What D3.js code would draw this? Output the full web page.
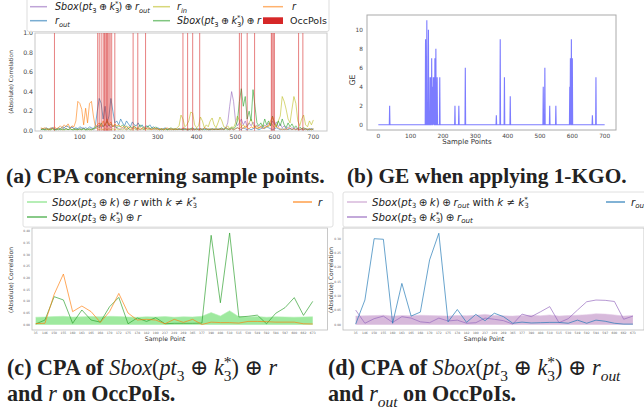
<!DOCTYPE html>
<html><head><meta charset="utf-8">
<script src="https://cdn.jsdelivr.net/npm/d3@7"></script>
<style>body{margin:0;background:#fff}svg{display:block}</style>
</head><body>
<svg id="fig" width="644" height="411"></svg>
<script>
// ---------- DATA ----------
// (a) correlation traces, one value every 5 sample points (0..700)
const samplePointsA = d3.range(0, 701, 5);
const sboxROut = [0.01,0.02,0.01,0.02,0.01,0.02,0.03,0.01,0.02,0.01,0.02,0.01,0.03,0.02,0.01,0.02,0.04,0.02,0.01,0.02,0.01,0.02,0.03,0.01,0.02,0.01,0.02,0.01,0.02,
 0.04,0.06,0.03,0.05,0.07,0.04,0.06,0.03,0.05,0.04,0.03,
 0.02,0.01,0.03,0.02,0.01,0.02,0.01,0.02,0.03,0.01,0.02,0.01,0.02,0.01,0.02,0.03,0.01,0.02,0.01,0.02,
 0.01,0.02,0.01,0.02,0.01,0.02,0.01,0.02,0.01,0.02,0.01,0.02,0.01,0.02,0.03,0.01,0.02,0.01,0.02,0.01,
 0.02,0.01,0.02,0.01,0.03,0.02,0.01,0.02,0.01,0.02,0.01,0.02,0.01,0.02,0.01,
 0.03,0.08,0.25,0.40,0.30,0.10,0.05,0.08,
 0.12,0.06,0.10,0.04,0.08,0.05,0.09,0.04,0.06,0.03,
 0.05,0.03,0.06,0.04,0.08,0.05,0.10,0.06,0.09,0.04,0.07,0.03,0.05,0.02,0.04,0.02,0.03,0.02,0.03,0.01,0.02,0.01,0.02,0.01,0.02,0.01,0.02,0.01];
const rOut = [0.02,0.01,0.02,0.03,0.01,0.02,0.03,0.02,0.01,0.03,0.02,0.04,0.03,0.05,0.04,0.03,0.04,0.02,0.03,0.02,0.04,0.03,0.02,0.03,0.02,0.04,0.03,0.02,0.05,
 0.20,0.33,0.28,0.12,0.25,0.08,0.15,0.33,0.20,0.08,
 0.10,0.06,0.12,0.08,0.05,0.10,0.07,0.04,0.09,0.06,0.05,0.08,0.04,0.06,0.03,0.05,0.04,0.06,0.03,0.04,0.02,0.03,
 0.02,0.01,0.02,0.03,0.01,0.02,0.01,0.02,0.01,0.02,0.01,0.02,0.01,0.02,0.01,0.01,0.02,0.01,0.02,0.01,
 0.02,0.01,0.02,0.01,0.02,0.01,0.01,0.02,0.01,0.02,0.01,0.02,0.01,0.02,0.03,0.02,0.01,0.02,0.01,0.02,
 0.03,0.02,0.01,0.03,0.02,0.01,0.02,0.01,0.02,0.03,0.02,0.01,0.02,0.03,0.02,0.04,0.03,0.02,0.01,0.02,
 0.03,0.02,0.01,0.02,0.01,0.02,0.01,0.02,0.01,0.02,0.01,0.02,0.01,0.02,0.01,0.02,0.01,0.01,0.02,0.01];
const rIn = [0.01,0.02,0.01,0.02,0.01,0.01,0.02,0.01,0.02,0.01,0.02,0.01,0.01,0.02,0.01,0.02,0.01,0.02,0.01,0.01,
 0.02,0.01,0.02,0.01,0.02,0.01,0.01,0.02,0.03,0.02,0.01,0.02,0.01,0.02,0.01,0.02,0.01,0.02,0.01,0.02,
 0.01,0.02,0.01,0.02,0.01,0.02,0.01,0.01,0.02,0.01,0.02,0.01,0.02,0.01,0.02,0.01,0.02,0.01,0.02,0.01,
 0.02,0.01,0.02,0.01,0.02,0.01,0.02,0.01,0.02,0.01,0.03,
 0.05,0.16,0.12,0.04,0.06,0.10,0.19,0.18,0.06,0.03,
 0.05,0.14,0.10,0.03,0.06,0.04,0.10,0.13,0.06,0.03,0.08,0.14,0.10,0.04,0.03,0.05,0.02,0.04,0.03,0.08,
 0.15,0.10,0.04,0.06,0.03,0.05,0.08,0.12,0.06,0.03,0.05,0.02,0.04,0.06,0.03,0.05,0.04,0.08,0.06,0.03,0.05,0.10,
 0.15,0.35,0.30,0.22,0.12,0.08,0.22,0.35,0.28,0.10,0.05,0.12,0.16,0.06,0.04,0.10,0.06,0.11];
const sboxR = [0.01,0.02,0.01,0.01,0.02,0.01,0.02,0.01,0.01,0.02,0.01,0.02,0.01,0.02,0.01,0.02,0.01,0.01,0.02,0.01,0.02,0.01,0.02,0.01,0.01,0.02,0.01,0.02,0.03,
 0.05,0.03,0.08,0.04,0.06,0.10,0.05,0.07,0.04,0.06,0.03,0.05,0.04,0.06,0.03,0.05,0.02,0.04,0.03,0.05,0.02,0.03,0.06,0.04,0.02,0.03,0.05,0.02,0.03,0.02,0.04,0.02,
 0.01,0.02,0.01,0.02,0.01,0.02,0.03,0.01,0.02,0.01,0.02,0.01,0.02,0.01,0.02,0.01,0.02,0.03,0.01,0.02,
 0.01,0.02,0.01,0.02,0.01,0.02,0.01,0.02,0.01,0.02,0.01,0.02,0.03,0.01,0.02,0.01,0.02,0.03,0.02,0.04,
 0.10,0.30,0.43,0.25,0.35,0.12,0.20,0.10,0.42,0.25,0.08,0.05,
 0.08,0.04,0.12,0.06,0.10,0.05,0.15,0.08,0.04,0.10,0.05,0.12,0.06,0.03,0.08,0.04,0.07,0.03,0.05,0.02,0.04,0.02,0.03,0.02,0.01,0.02,0.01,0.02];
const rMask = [0.03,0.02,0.03,0.02,0.01,0.03,0.02,0.04,0.02,0.03,0.05,0.03,
 0.06,0.04,0.07,0.03,0.05,0.04,
 0.10,0.30,0.28,0.22,0.06,0.23,0.08,0.28,0.30,0.15,0.04,
 0.06,0.08,0.04,0.10,0.05,0.12,0.06,0.09,0.04,0.07,0.05,0.06,
 0.04,0.03,0.05,0.02,0.04,0.03,0.02,0.04,0.03,0.02,0.03,0.02,0.04,0.02,0.03,0.02,0.01,0.03,0.02,0.02,
 0.01,0.02,0.01,0.02,0.03,0.01,0.02,0.01,0.02,0.01,0.02,0.01,0.03,0.02,0.01,0.02,0.01,0.02,0.01,0.02,
 0.01,0.02,0.01,0.03,0.02,0.01,0.02,0.01,0.02,0.01,0.02,0.01,0.02,0.01,0.03,0.02,0.01,0.02,0.01,0.02,
 0.03,0.02,0.04,0.02,0.05,0.03,0.02,0.04,0.03,0.05,0.02,0.03,0.04,0.02,0.03,0.04,
 0.05,0.10,0.14,0.08,0.04,0.03,
 0.02,0.01,0.02,0.01,0.02,0.03,0.01,0.02,0.01,0.02,0.01,0.02,0.01,0.02,0.01,0.02,0.01,0.02];
// OccPoIs (sample points) and guessing entropy
const occPoIs = [35,146,150,155,160,163,165,168,170,172,175,178,182,190,237,249,269,365,377,390,408,510,515,530,549,592,594,597,600,662,673];
const geValues = [2,9,11,10,5,5,7,4,5,5,7,8,5,5,2,2,6,1,9,5,3,4,6,2,2,4,7,9,7,1,5];
const aTicksX = [0,100,200,300,400,500,600,700];
const aTicksY = [0,0.2,0.4,0.6,0.8,1.0];
const bTicksY = [0,2,4,6,8,10];
// (c) CPA on OccPoIs
const cWrongKeyUpper = [0.032,0.033,0.035,0.036,0.033,0.034,0.035,0.034,0.036,0.035,0.033,0.032,0.034,0.033,0.035,0.032,0.034,0.033,0.036,0.052,0.037,0.060,0.034,0.033,0.035,0.032,0.034,0.033,0.032,0.033,0.034];
const cSboxR = [0.003,0.02,0.12,0.106,0.006,0.063,0.02,0.011,0.077,0.117,0.004,0.029,0.014,0.03,0.004,0.006,0.006,0.006,0.007,0.383,0.094,0.393,0.033,0.036,0.041,0.004,0.049,0.073,0.116,0.04,0.10];
const cR = [0.005,0.006,0.13,0.217,0.056,0.08,0.056,0.01,0.056,0.134,0.05,0.02,0.023,0.02,0.004,0.023,0.01,0.023,0.001,0.011,0.009,0.009,0.007,0.014,0.014,0.013,0.011,0.011,0.011,0.004,0.003];
const cTicksY = [0,0.05,0.10,0.15,0.20,0.25,0.30,0.35,0.40];
// (d)
const dWrongKeyUpper = [0.030,0.031,0.032,0.033,0.030,0.032,0.031,0.033,0.032,0.031,0.030,0.032,0.031,0.033,0.036,0.032,0.031,0.030,0.032,0.033,0.031,0.034,0.030,0.032,0.033,0.035,0.038,0.037,0.034,0.030,0.032];
const dSboxROut = [0.051,0.005,0.021,0.03,0.008,0.028,0.023,0.01,0.007,0.023,0.013,0.016,0.005,0.007,0.023,0.019,0.014,0.002,0.037,0.028,0.045,0.063,0.007,0.021,0.051,0.08,0.086,0.085,0.081,0.019,0.03];
const dROut = [0.002,0.086,0.30,0.298,0.005,0.144,0.03,0.044,0.226,0.319,0.01,0.053,0.008,0.036,0.014,0.04,0.028,0.005,0.009,0.006,0.007,0.008,0.008,0.005,0.016,0.005,0.016,0.012,0.005,0.002,0.002];
const dTicksY = [0,0.05,0.10,0.15,0.20,0.25,0.30];

// ---------- HELPERS ----------
const SANS = "DejaVu Sans, sans-serif";
const SERIF = "Liberation Serif, DejaVu Serif, serif";
const svg = d3.select("#fig");
const C = {purple:"#9467bd", blue:"#1f77b4", olive:"#bcbd22", green:"#2ca02c", orange:"#ff7f0e", red:"#d62728"};

function rich(parent, x, y, parts, fs, family, anchor){
  const t = parent.append("text").attr("x", x).attr("y", y)
    .attr("font-family", family).attr("font-size", fs).attr("fill", "#222");
  if (anchor) t.attr("text-anchor", anchor);
  let off = 0, prev = null;
  parts.forEach(p => {
    const [txt, st, pos] = p;
    const ts = t.append("tspan").text(txt);
    let target = 0, size = fs;
    if (pos === "sub") { target = 0.28*fs; size = 0.7*fs; }
    if (pos === "sup") { target = -0.38*fs; size = 0.7*fs; }
    ts.attr("font-size", size)
      .attr("font-style", st === "i" ? "italic" : "normal")
      .attr("font-weight", st === "b" ? "bold" : "normal");
    if (target !== off) ts.attr("dy", target - off);
    if (pos === "sup" && prev) ts.attr("dx", -prev.node().getComputedTextLength());
    off = target; prev = ts;
  });
  return t;
}
function fitRich(parent, x, y, parts, fs, family, width){
  let t = rich(parent, x, y, parts, fs, family);
  if (width) {
    const w = t.node().getComputedTextLength();
    t.remove();
    t = rich(parent, x, y, parts, fs*width/w, family);
  }
  return t;
}
const TS = "\u2005⊕\u2005";
const mSboxROut = [["Sbox","i"],["(","n"],["pt","i"],["3","n","sub"],[TS,"n"],["k","i"],["3","n","sub"],["*","n","sup"],[")","n"],[TS,"n"],["r","i"],["out","i","sub"]];
const mSboxR = [["Sbox","i"],["(","n"],["pt","i"],["3","n","sub"],[TS,"n"],["k","i"],["3","n","sub"],["*","n","sup"],[")","n"],[TS,"n"],["r","i"]];

function legendLine(g, x1, x2, y, color, op, w){
  g.append("line").attr("x1", x1).attr("x2", x2).attr("y1", y).attr("y2", y)
    .attr("stroke", color).attr("stroke-opacity", op).attr("stroke-width", w || 1.5);
}

// ---------- PANEL (a) ----------
const gA = svg.append("g");
const xA = d3.scaleLinear().domain([-15, 735]).range([35, 327]);
const yA = d3.scaleLinear().domain([0, 1]).range([130.7, 33]);
gA.append("rect").attr("x", 35).attr("y", 33).attr("width", 292).attr("height", 98)
  .attr("fill", "none").attr("stroke", "#c8c8c8").attr("stroke-width", 1);
const lineA = d3.line().x((d, i) => xA(samplePointsA[i])).y(d => yA(d));
[[sboxROut, C.purple], [rOut, C.blue], [rIn, C.olive], [sboxR, C.green], [rMask, C.orange]].forEach(([s, c]) => {
  gA.append("path").attr("d", lineA(s.slice(0, samplePointsA.length))).attr("fill", "none")
    .attr("stroke", c).attr("stroke-opacity", 0.6).attr("stroke-width", 1);
});
gA.selectAll("line.occ").data(occPoIs).join("line").attr("class", "occ")
  .attr("x1", d => xA(d)).attr("x2", d => xA(d)).attr("y1", yA(0)).attr("y2", yA(1))
  .attr("stroke", C.red).attr("stroke-opacity", 0.65).attr("stroke-width", 0.9);
gA.selectAll("text.xt").data(aTicksX).join("text").attr("class", "xt")
  .attr("x", d => xA(d)).attr("y", 139).attr("text-anchor", "middle")
  .attr("font-family", SANS).attr("font-size", 6.2).attr("fill", "#444").text(d => d);
gA.selectAll("text.yt").data(aTicksY).join("text").attr("class", "yt")
  .attr("x", 33).attr("y", d => yA(d) + 2).attr("text-anchor", "end")
  .attr("font-family", SANS).attr("font-size", 6.2).attr("fill", "#444").text(d => d.toFixed(1));
gA.append("text").attr("transform", "translate(13,82) rotate(-90)").attr("text-anchor", "middle")
  .attr("font-family", SANS).attr("font-size", 5.8).attr("fill", "#333").text("(Absolute) Correlation");
// legend (a)
const lgA = gA.append("g");
lgA.append("rect").attr("x", 27).attr("y", -4).attr("width", 302).attr("height", 35.5).attr("rx", 2)
  .attr("fill", "#fff").attr("fill-opacity", 0.85).attr("stroke", "#ddd");
const FA = 9.6;
legendLine(lgA, 30, 47, 6.7, C.purple, 0.6);
rich(lgA, 55, 10.1, mSboxROut, FA, SANS);
legendLine(lgA, 30, 47, 20.7, C.blue, 0.6);
rich(lgA, 55, 24.1, [["r","i"],["out","i","sub"]], FA, SANS);
legendLine(lgA, 153, 170, 6.7, C.olive, 0.6);
rich(lgA, 177, 10.1, [["r","i"],["in","i","sub"]], FA, SANS);
legendLine(lgA, 153, 170, 20.7, C.green, 0.6);
rich(lgA, 177, 24.1, mSboxR, FA, SANS);
legendLine(lgA, 263, 283, 6.7, C.orange, 0.6);
rich(lgA, 292, 10.1, [["r","i"]], FA, SANS);
lgA.append("rect").attr("x", 263).attr("y", 17.3).attr("width", 20).attr("height", 6.7).attr("fill", C.red);
lgA.append("text").attr("x", 290).attr("y", 24.1).attr("font-family", SANS).attr("font-size", 9.5)
  .attr("fill", "#222").text("OccPoIs");

// ---------- PANEL (b) ----------
const gB = svg.append("g");
const xB = d3.scaleLinear().domain([-35, 735]).range([367, 616]);
const yB = d3.scaleLinear().domain([-0.55, 11.55]).range([130, 15]);
gB.append("rect").attr("x", 367).attr("y", 15).attr("width", 249).attr("height", 115)
  .attr("fill", "none").attr("stroke", "#aaa");
const geMap = new Map(occPoIs.map((p, i) => [p, geValues[i]]));
const geSeries = d3.range(0, 701).map(p => [p, geMap.get(p) || 0]);
gB.append("path").attr("d", d3.line().x(d => xB(d[0])).y(d => yB(d[1]))(geSeries))
  .attr("fill", "none").attr("stroke", "#3535ff").attr("stroke-opacity", 0.65).attr("stroke-width", 1.1);
gB.selectAll("text.xt").data(aTicksX).join("text").attr("class", "xt")
  .attr("x", d => xB(d)).attr("y", 137.5).attr("text-anchor", "middle")
  .attr("font-family", SANS).attr("font-size", 5.8).attr("fill", "#444").text(d => d);
gB.selectAll("text.yt").data(bTicksY).join("text").attr("class", "yt")
  .attr("x", 363).attr("y", d => yB(d) + 2).attr("text-anchor", "end")
  .attr("font-family", SANS).attr("font-size", 5.8).attr("fill", "#444").text(d => d);
gB.append("text").attr("transform", "translate(355,80) rotate(-90)").attr("text-anchor", "middle")
  .attr("font-family", SANS).attr("font-size", 7.8).attr("fill", "#333").text("GE");
gB.append("text").attr("x", 467).attr("y", 144).attr("text-anchor", "middle")
  .attr("font-family", SANS).attr("font-size", 7).attr("fill", "#333").text("Sample Points");

// ---------- CAPTIONS (a), (b) ----------
fitRich(svg, 6, 183, [["(a) CPA concerning sample points.","b"]], 20, SERIF, 319);
fitRich(svg, 347, 183, [["(b) GE when applying 1-KGO.","b"]], 20, SERIF, 280);

// ---------- PANELS (c), (d) ----------
function occPanel(cfg){
  const g = svg.append("g");
  const x = d3.scaleLinear().domain(cfg.xDom).range(cfg.xRange);
  const y = d3.scaleLinear().domain(cfg.yDom).range([330, 228]);
  const idx = d3.range(occPoIs.length);
  g.append("path").attr("d", d3.area().x(i => x(i)).y0(y(0)).y1(i => y(cfg.band[i]))(idx))
    .attr("fill", cfg.bandColor).attr("fill-opacity", 0.8);
  g.append("path").attr("d", d3.line().x(i => x(i)).y(i => y(cfg.band[i]))(idx))
    .attr("fill", "none").attr("stroke", cfg.bandLine).attr("stroke-width", 0.8).attr("stroke-opacity", 0.7);
  cfg.lines.forEach(([s, c]) => {
    g.append("path").attr("d", d3.line().x(i => x(i)).y(i => y(s[i]))(idx))
      .attr("fill", "none").attr("stroke", c).attr("stroke-opacity", 0.75).attr("stroke-width", 0.9);
  });
  g.append("rect").attr("x", cfg.xRange[0]).attr("y", 228).attr("width", cfg.xRange[1] - cfg.xRange[0]).attr("height", 102)
    .attr("fill", "none").attr("stroke", "#bbb").attr("stroke-width", 0.8);
  g.selectAll("text.xt").data(idx).join("text").attr("class", "xt")
    .attr("x", i => x(i)).attr("y", 334).attr("text-anchor", "middle")
    .attr("font-family", SANS).attr("font-size", 3).attr("fill", "#666").text(i => occPoIs[i]);
  g.selectAll("text.yt").data(cfg.ticks).join("text").attr("class", "yt")
    .attr("x", cfg.xRange[0] - 2).attr("y", d => y(d) + 1).attr("text-anchor", "end")
    .attr("font-family", SANS).attr("font-size", 3).attr("fill", "#666").text(d => d.toFixed(2));
  g.append("text").attr("transform", `translate(${cfg.ylabX},280) rotate(-90)`).attr("text-anchor", "middle")
    .attr("font-family", SANS).attr("font-size", 6).attr("fill", "#333").text("(Absolute) Correlation");
  g.append("text").attr("x", cfg.xlabX).attr("y", 341).attr("text-anchor", "middle")
    .attr("font-family", SANS).attr("font-size", 6.2).attr("fill", "#333").text("Sample Point");
  // legend
  const L = cfg.legendX, FL = 10.2;
  g.append("rect").attr("x", L).attr("y", 192).attr("width", 310).attr("height", 35).attr("rx", 2)
    .attr("fill", "#fff").attr("stroke", "#e0e0e0");
  legendLine(g, L + 4, L + 24, 202, cfg.bandColor, 0.8);
  rich(g, L + 29, 205.5, cfg.leg1, FL, SANS);
  legendLine(g, L + 4, L + 24, 217, cfg.lines[0][1], 0.75);
  rich(g, L + 29, 220.5, cfg.leg2, FL, SANS);
  legendLine(g, cfg.leg3X, cfg.leg3X + 19, 202, cfg.lines[1][1], 0.75);
  rich(g, cfg.leg3X + 25, 205.5, cfg.leg3, FL, SANS);
}
occPanel({xDom:[-0.4, 31.6], xRange:[32, 327.5], yDom:[-0.0227, 0.4143], band:cWrongKeyUpper,
  bandColor:"#86e386", bandLine:"#b4f0b4", lines:[[cSboxR, C.green], [cR, C.orange]], ticks:cTicksY,
  ylabX:13, xlabX:165, legendX:23, leg3X:293,
  leg1:[["Sbox","i"],["(","n"],["pt","i"],["3","n","sub"],[TS,"n"],["k","i"],[")","n"],[TS,"n"],["r","i"],[" with ","n"],["k","i"],[" ≠ ","n"],["k","i"],["3","n","sub"],["*","n","sup"]],
  leg2:mSboxR, leg3:[["r","i"]]});
occPanel({xDom:[-1.37, 31.2], xRange:[343, 644], yDom:[-0.0185, 0.3373], band:dWrongKeyUpper,
  bandColor:"#cda8d2", bandLine:"#e2c8e6", lines:[[dSboxROut, C.purple], [dROut, C.blue]], ticks:dTicksY,
  ylabX:333, xlabX:484, legendX:343, leg3X:606,
  leg1:[["Sbox","i"],["(","n"],["pt","i"],["3","n","sub"],[TS,"n"],["k","i"],[")","n"],[TS,"n"],["r","i"],["out","i","sub"],[" with ","n"],["k","i"],[" ≠ ","n"],["k","i"],["3","n","sub"],["*","n","sup"]],
  leg2:mSboxROut, leg3:[["r","i"],["out","i","sub"]]});

// ---------- CAPTIONS (c), (d) ----------
const capC1 = [["(c) CPA of ","b"],["Sbox","i"],["(","n"],["pt","i"],["3","n","sub"],[" ⊕ ","n"],["k","i"],["3","n","sub"],["*","n","sup"],[")","n"],[" ⊕ ","n"],["r","i"]];
const cap1 = fitRich(svg, 7, 375, capC1, 20, SERIF, 278);
const fsCap = parseFloat(cap1.attr("font-size"));
fitRich(svg, 7, 401, [["and ","b"],["r","i"],[" on OccPoIs.","b"]], fsCap, SERIF);
rich(svg, 328, 375, [["(d) CPA of ","b"],["Sbox","i"],["(","n"],["pt","i"],["3","n","sub"],[" ⊕ ","n"],["k","i"],["3","n","sub"],["*","n","sup"],[")","n"],[" ⊕ ","n"],["r","i"],["out","i","sub"]], fsCap, SERIF);
rich(svg, 328, 401, [["and ","b"],["r","i"],["out","i","sub"],[" on OccPoIs.","b"]], fsCap, SERIF);
</script>
</body></html>
